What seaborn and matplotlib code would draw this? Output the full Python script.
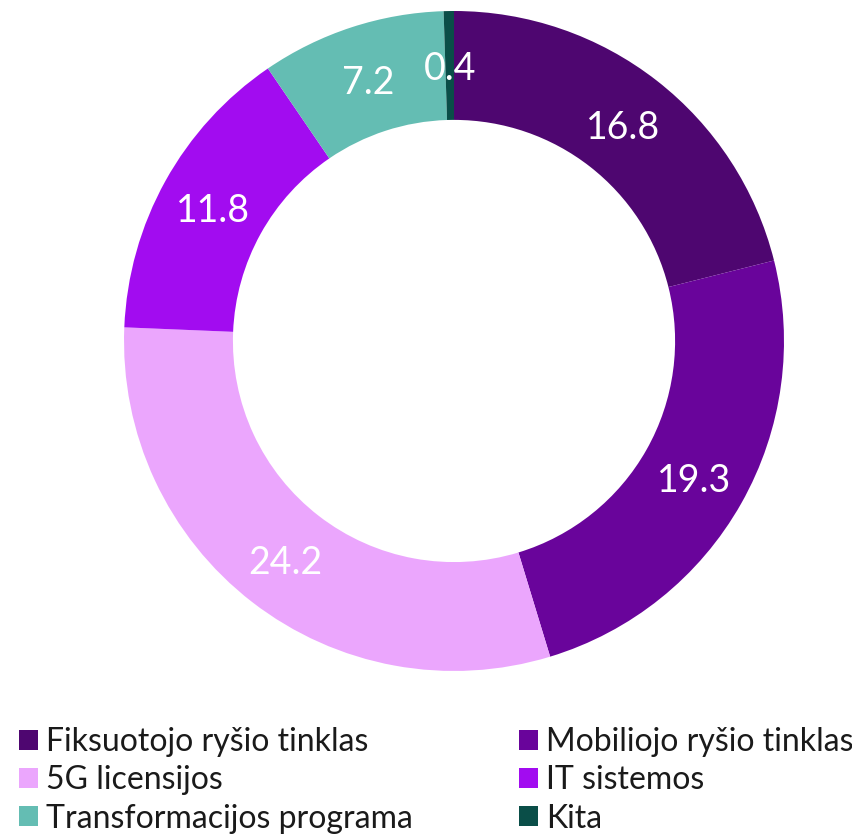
import matplotlib
matplotlib.use("Agg")
import matplotlib.pyplot as plt
from matplotlib.patches import Patch
from matplotlib.transforms import offset_copy
import seaborn as sns

sns.set_theme(style="white")
plt.rcParams['font.family'] = ['Lato', 'DejaVu Sans']

categories = ["Fiksuotojo ryšio tinklas", "Mobiliojo ryšio tinklas", "5G licensijos",
              "IT sistemos", "Transformacijos programa", "Kita"]
values = [16.8, 19.3, 24.2, 11.8, 7.2, 0.4]
colors = ["#4E0670", "#69049B", "#EBA6FD", "#A20CF0", "#64BDB3", "#0A4E48"]

total = sum(values)

fig = plt.figure(figsize=(8.53, 8.38), dpi=100)
ax = fig.add_axes([0.1454, 0.1993, 0.7737, 0.7876])

wedges, texts, autotexts = ax.pie(
    values, colors=colors, startangle=90, counterclock=False,
    wedgeprops=dict(width=0.33, linewidth=0),
    autopct=lambda p: f"{p * total / 100:.1f}", pctdistance=0.835,
    textprops=dict(color="white", fontsize=27, fontweight="normal"))
# nudge value labels down a little
for t in autotexts:
    t.set_transform(offset_copy(ax.transData, fig=fig, x=0, y=-4, units="dots"))
ax.set_xlim(-1, 1)
ax.set_ylim(-1, 1)
ax.set_aspect("equal")

handles = [Patch(facecolor=c, edgecolor="none") for c in colors]
legend_kw = dict(frameon=False, fontsize=23, handlelength=0.6, handleheight=0.6,
                 handletextpad=0.25, labelspacing=0.26, labelcolor="#1A1A1A",
                 borderpad=0, borderaxespad=0)
leg1 = fig.legend([handles[i] for i in (0, 2, 4)], [categories[i] for i in (0, 2, 4)],
                  loc="upper left", bbox_to_anchor=(19 / 853, 1 - 727 / 838), **legend_kw)
leg2 = fig.legend([handles[i] for i in (1, 3, 5)], [categories[i] for i in (1, 3, 5)],
                  loc="upper left", bbox_to_anchor=(519 / 853, 1 - 727 / 838), **legend_kw)

fig.savefig("out.png", dpi=100)
